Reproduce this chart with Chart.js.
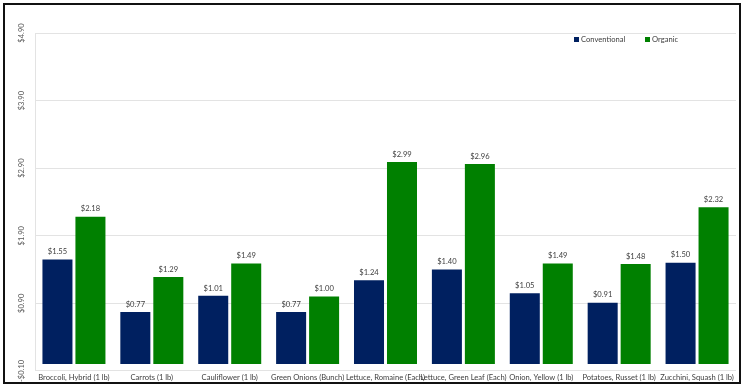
<!DOCTYPE html>
<html lang="en">
<head>
    <meta charset="UTF-8">
    <title>Conventional vs Organic Prices</title>
    <script src="https://cdn.jsdelivr.net/npm/chart.js"></script>
    <style>
        html, body { margin: 0; padding: 0; background: #fff; }
        .wrap { position: relative; width: 743px; height: 390px; }
        .frame {
            position: absolute; left: 3px; top: 3px; width: 734px; height: 377px;
            border: 2px solid #111; pointer-events: none;
        }
        canvas { display: block; }
    </style>
</head>
<body>
    <div class="wrap">
        <canvas id="grafico" width="743" height="390"></canvas>
        <div class="frame"></div>
    </div>

    <script>
        const categorias = [
            'Broccoli, Hybrid (1 lb)', 'Carrots (1 lb)', 'Cauliflower (1 lb)',
            'Green Onions (Bunch)', 'Lettuce, Romaine (Each)', 'Lettuce, Green Leaf (Each)',
            'Onion, Yellow (1 lb)', 'Potatoes, Russet (1 lb)', 'Zucchini, Squash (1 lb)'
        ];
        const convencional = [1.55, 0.77, 1.01, 0.77, 1.24, 1.40, 1.05, 0.91, 1.50];
        const organico = [2.18, 1.29, 1.49, 1.00, 2.99, 2.96, 1.49, 1.48, 2.32];
        const eixoMin = -0.10;
        const eixoMax = 4.90;
        const eixoPasso = 1;

        const fonte = 'Lato, "Open Sans", sans-serif';
        const tamanho = 7.6;

        const formatMoeda = (valor) => {
            const s = '$' + Math.abs(valor).toFixed(2);
            return valor < -0.001 ? '-' + s : s;
        };

        // rotulos do eixo y, girados
        const rotulosY = {
            id: 'rotulosY',
            afterDraw(chart) {
                const ctx = chart.ctx;
                const y = chart.scales.y;
                ctx.save();
                ctx.font = tamanho + 'px ' + fonte;
                ctx.fillStyle = '#595959';
                ctx.textAlign = 'center';
                ctx.textBaseline = 'middle';
                y.ticks.forEach(t => {
                    const py = y.getPixelForValue(t.value);
                    ctx.save();
                    ctx.translate(22, py);
                    ctx.rotate(-Math.PI / 2);
                    ctx.fillText(formatMoeda(t.value), 0, 0);
                    ctx.restore();
                });
                ctx.restore();
            }
        };

        // valores em cima das barras
        const valores = {
            id: 'valores',
            afterDatasetsDraw(chart) {
                const ctx = chart.ctx;
                ctx.save();
                ctx.font = tamanho + 'px ' + fonte;
                ctx.fillStyle = '#404040';
                ctx.textAlign = 'center';
                ctx.textBaseline = 'bottom';
                chart.data.datasets.forEach((ds, i) => {
                    chart.getDatasetMeta(i).data.forEach((bar, j) => {
                        ctx.fillText(formatMoeda(ds.data[j]), bar.x, bar.y - 4);
                    });
                });
                ctx.restore();
            }
        };

        // legenda dentro da area do grafico
        const legenda = {
            id: 'legenda',
            afterDraw(chart) {
                const ctx = chart.ctx;
                const posX = [574, 645];
                ctx.save();
                ctx.font = tamanho + 'px ' + fonte;
                ctx.textBaseline = 'middle';
                ctx.textAlign = 'left';
                chart.data.datasets.forEach((ds, i) => {
                    ctx.fillStyle = ds.backgroundColor;
                    ctx.fillRect(posX[i], 37, 5, 5);
                    ctx.fillStyle = '#404040';
                    ctx.fillText(ds.label, posX[i] + 7, 40);
                });
                ctx.restore();
            }
        };

        const ctx = document.getElementById('grafico').getContext('2d');
        new Chart(ctx, {
            type: 'bar',
            data: {
                labels: categorias,
                datasets: [{
                    label: 'Conventional',
                    data: convencional,
                    backgroundColor: '#002060'
                }, {
                    label: 'Organic',
                    data: organico,
                    backgroundColor: '#008000'
                }]
            },
            options: {
                responsive: false,
                animation: false,
                categoryPercentage: 0.847,
                barPercentage: 0.91,
                layout: { padding: { left: 35, right: 7, top: 33, bottom: 6 } },
                plugins: {
                    legend: { display: false },
                    tooltip: { enabled: false }
                },
                scales: {
                    x: {
                        grid: { display: false, drawTicks: false },
                        border: { display: false },
                        ticks: {
                            autoSkip: false,
                            maxRotation: 0,
                            minRotation: 0,
                            padding: 2,
                            color: '#404040',
                            font: { family: fonte, size: tamanho }
                        }
                    },
                    y: {
                        min: eixoMin,
                        max: eixoMax,
                        ticks: { display: false, stepSize: eixoPasso },
                        grid: { color: '#e3e3e3', drawTicks: false },
                        border: { color: '#e3e3e3' }
                    }
                }
            },
            plugins: [rotulosY, valores, legenda]
        });
    </script>
</body>
</html>
